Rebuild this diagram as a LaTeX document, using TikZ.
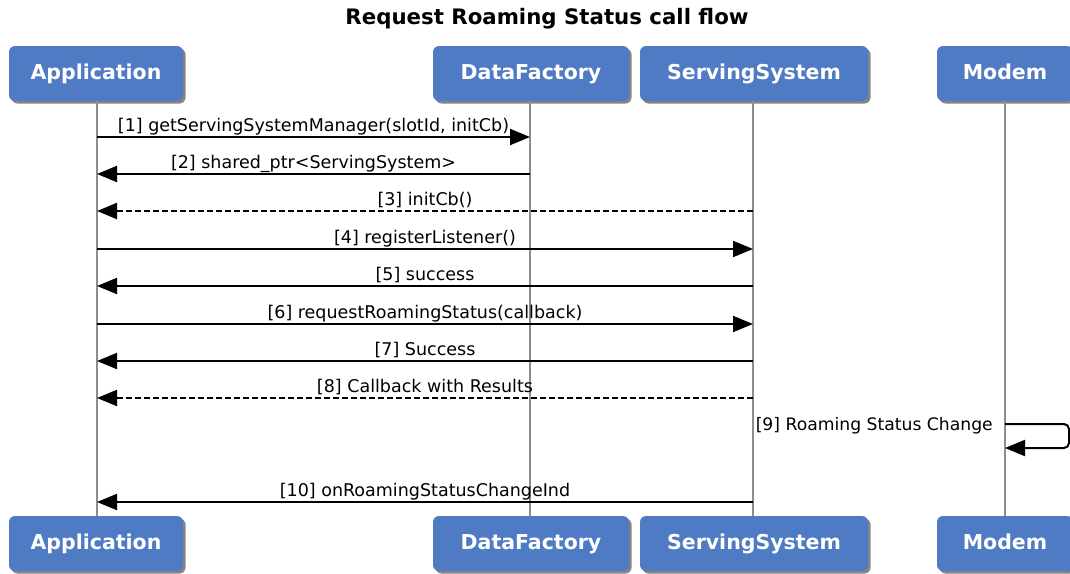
\documentclass[tikz,border=0pt]{standalone}
\usepackage{fontspec}
\setmainfont{DejaVu Sans}
\usetikzlibrary{arrows.meta,shadows}
\definecolor{boxblue}{RGB}{79,122,196}
\definecolor{lifegray}{RGB}{140,140,140}
\begin{document}
\begin{tikzpicture}[x=1pt,y=-1pt,
  actor/.style={rectangle,rounded corners=6pt,fill=boxblue,text=white,
    font=\fontsize{20.5}{24}\selectfont\bfseries,minimum height=55pt,inner sep=0pt,
    text height=15pt,text depth=4pt,
    drop shadow={shadow xshift=2.5pt,shadow yshift=-2.5pt,opacity=0.6,fill=black!80}},
  lifeline/.style={draw=lifegray,line width=1.5pt},
  msg/.style={draw=black,line width=2pt,-{Triangle[length=20pt,width=16pt]}},
  reply/.style={msg,dashed,dash pattern=on 6pt off 3pt},
  lbl/.style={font=\fontsize{17.5}{21}\selectfont,inner sep=0pt,anchor=base,yshift=5.5pt}
]
\useasboundingbox (0,0) rectangle (1070,573);
\node[font=\fontsize{21.3}{25}\selectfont\bfseries] (title) at (547,19) {Request Roaming Status call flow};

% top boxes
\node[actor,minimum width=174pt] (appT) at (96,73.5) {Application};
\node[actor,minimum width=196pt] (dfT) at (531,73.5) {DataFactory};
\node[actor,minimum width=228pt] (ssT) at (754,73.5) {ServingSystem};
\node[actor,minimum width=136pt] (mdT) at (1005,73.5) {Modem};
% bottom boxes
\node[actor,minimum width=174pt] (appB) at (96,543.5) {Application};
\node[actor,minimum width=196pt] (dfB) at (531,543.5) {DataFactory};
\node[actor,minimum width=228pt] (ssB) at (754,543.5) {ServingSystem};
\node[actor,minimum width=136pt] (mdB) at (1005,543.5) {Modem};

% lifelines
\coordinate (aT) at (97,101); \coordinate (aB) at (97,516);
\coordinate (dT) at (530,101); \coordinate (dB) at (530,516);
\coordinate (sT) at (753,101); \coordinate (sB) at (753,516);
\coordinate (mT) at (1005,101); \coordinate (mB) at (1005,516);
\draw[lifeline] (aT) -- (aB);
\draw[lifeline] (dT) -- (dB);
\draw[lifeline] (sT) -- (sB);
\draw[lifeline] (mT) -- (mB);

% message coordinates
\foreach \n/\y in {1/137,2/174,3/211,4/249,5/286,6/324,7/361,8/398,10/502}{
  \coordinate (a\n) at (97,\y);
  \coordinate (d\n) at (530,\y);
  \coordinate (s\n) at (753,\y);
}
\draw[msg] (a1) -- node[lbl] {[1] getServingSystemManager(slotId, initCb)} (d1);
\draw[msg] (d2) -- node[lbl] {[2] shared\_ptr<ServingSystem>} (a2);
\draw[reply] (s3) -- node[lbl] {[3] initCb()} (a3);
\draw[msg] (a4) -- node[lbl] {[4] registerListener()} (s4);
\draw[msg] (s5) -- node[lbl] {[5] success} (a5);
\draw[msg] (a6) -- node[lbl] {[6] requestRoamingStatus(callback)} (s6);
\draw[msg] (s7) -- node[lbl] {[7] Success} (a7);
\draw[reply] (s8) -- node[lbl] {[8] Callback with Results} (a8);
\draw[msg] (s10) -- node[lbl] {[10] onRoamingStatusChangeInd} (a10);

% self message
\coordinate (m9a) at (1005,424);
\coordinate (m9b) at (1005,448);
\coordinate (m9r) at (1069,424);
\draw[msg,rounded corners=5pt] (m9a) -- (m9r) -- (m9r |- m9b) -- (m9b);
\node[font=\fontsize{17.2}{21}\selectfont,inner sep=0pt,anchor=base east] (l9) at (993,430) {[9] Roaming Status Change};
\end{tikzpicture}
\end{document}
